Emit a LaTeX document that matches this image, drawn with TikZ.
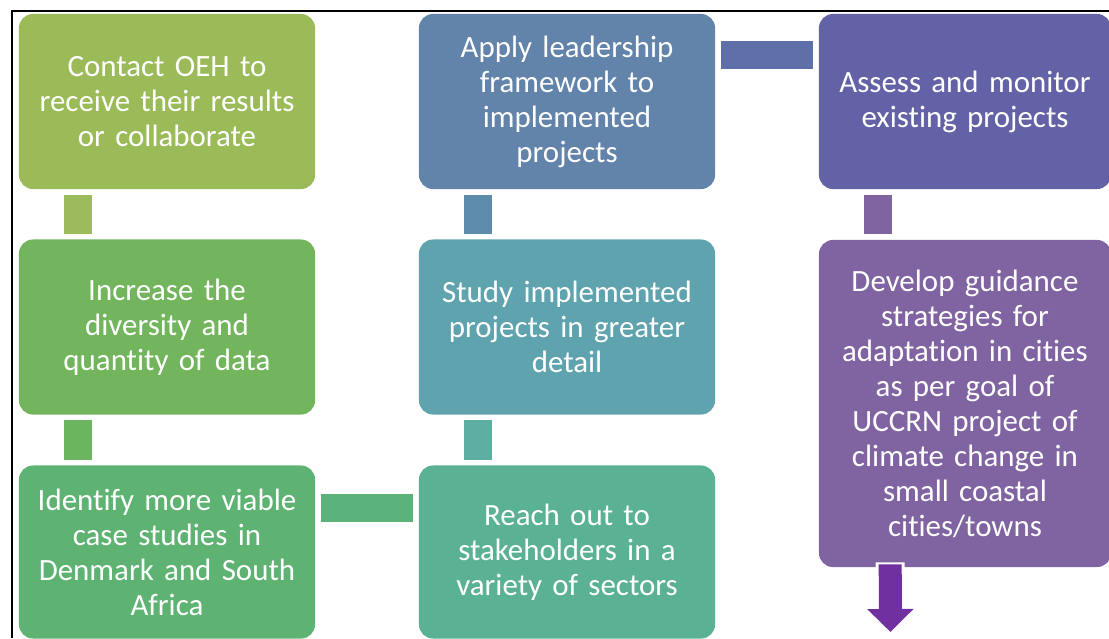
\documentclass[tikz,border=0pt]{standalone}
\usepackage{fontspec}
\setmainfont{Carlito}[Ligatures={NoCommon}]
\usetikzlibrary{arrows.meta}

\definecolor{boxA}{HTML}{9BBB59}
\definecolor{boxB}{HTML}{72B55D}
\definecolor{boxC}{HTML}{5EB373}
\definecolor{boxD}{HTML}{5BB193}
\definecolor{boxE}{HTML}{5FA3AE}
\definecolor{boxF}{HTML}{6283AA}
\definecolor{boxG}{HTML}{6362A6}
\definecolor{boxH}{HTML}{8064A1}
\definecolor{lnkA}{HTML}{9CBB5A}
\definecolor{lnkB}{HTML}{6CB55F}
\definecolor{lnkC}{HTML}{5BB27A}
\definecolor{lnkD}{HTML}{5EAEA1}
\definecolor{lnkE}{HTML}{5E8CAD}
\definecolor{lnkF}{HTML}{5F6FA8}
\definecolor{lnkG}{HTML}{8064A2}
\definecolor{outpurple}{HTML}{7030A0}

\begin{document}
\begin{tikzpicture}[x=0.025cm, y=-0.025cm]
        \tikzset{box/.style={rectangle, rounded corners=0.35cm, fill=#1, text=white,
                minimum width=7.4cm, minimum height=4.375cm, inner sep=0pt,
                text width=7cm, align=center, font=\fontsize{22}{24.9}\selectfont},
            link/.style={draw=#1, line width=0.7cm, shorten <=0.14cm, shorten >=0.14cm}}

        \useasboundingbox (0,0) rectangle (1109,638);
        \draw[line width=0.03cm] (12,638) -- (12,11) -- (1109,11);

        \node[box=boxA] (contact) at (167,101.5) {Contact OEH to\\receive their results\\or collaborate};
        \node[box=boxB] (increase) at (167,327) {Increase the\\diversity and\\quantity of data};
        \node[box=boxC, minimum height=4.325cm] (identify) at (167,552) {Identify more viable\\case studies in\\Denmark and South\\Africa};
        \node[box=boxD, minimum height=4.325cm] (reach) at (567,552) {Reach out to\\stakeholders in a\\variety of sectors};
        \node[box=boxE] (study) at (567,327) {Study implemented\\projects in greater\\detail};
        \node[box=boxF] (apply) at (567,101.5) {Apply leadership\\framework to\\implemented\\projects};
        \node[box=boxG, minimum width=7.3cm] (assess) at (965,101.5) {Assess and monitor\\existing projects};
        \node[box=boxH, minimum width=7.3cm, minimum height=8.175cm] (develop) at (965,403.5)
            {Develop guidance\\strategies for\\adaptation in cities\\as per goal of\\UCCRN project of\\climate change in\\small coastal\\cities/towns};

        \draw[link=lnkA] ([xshift=1.475cm]contact.south west) -- ([xshift=1.475cm]increase.north west);
        \draw[link=lnkB] ([xshift=1.475cm]increase.south west) -- ([xshift=1.475cm]identify.north west);
        \draw[link=lnkC] ([yshift=-1.06cm]identify.north east) -- ([yshift=-1.06cm]reach.north west);
        \draw[link=lnkD] ([xshift=1.475cm]reach.north west) -- ([xshift=1.475cm]study.south west);
        \draw[link=lnkE] ([xshift=1.475cm]study.north west) -- ([xshift=1.475cm]apply.south west);
        \draw[link=lnkF] ([yshift=-1.04cm]apply.north east) -- ([yshift=-1.04cm]assess.north west);
        \draw[link=lnkG] ([xshift=1.475cm]assess.south west) -- ([xshift=1.475cm]develop.north west);

        \coordinate (out) at (890.5,632);
        \draw[draw=outpurple, fill=outpurple, line width=0.575cm, shorten <=-0.075cm,
            -{Triangle[width=1.125cm, length=0.575cm]},
            preaction={draw=white, line width=0.725cm, shorten <=-0.125cm, -}]
            ([xshift=1.7875cm]develop.south west) -- (out);
    \end{tikzpicture}
\end{document}
